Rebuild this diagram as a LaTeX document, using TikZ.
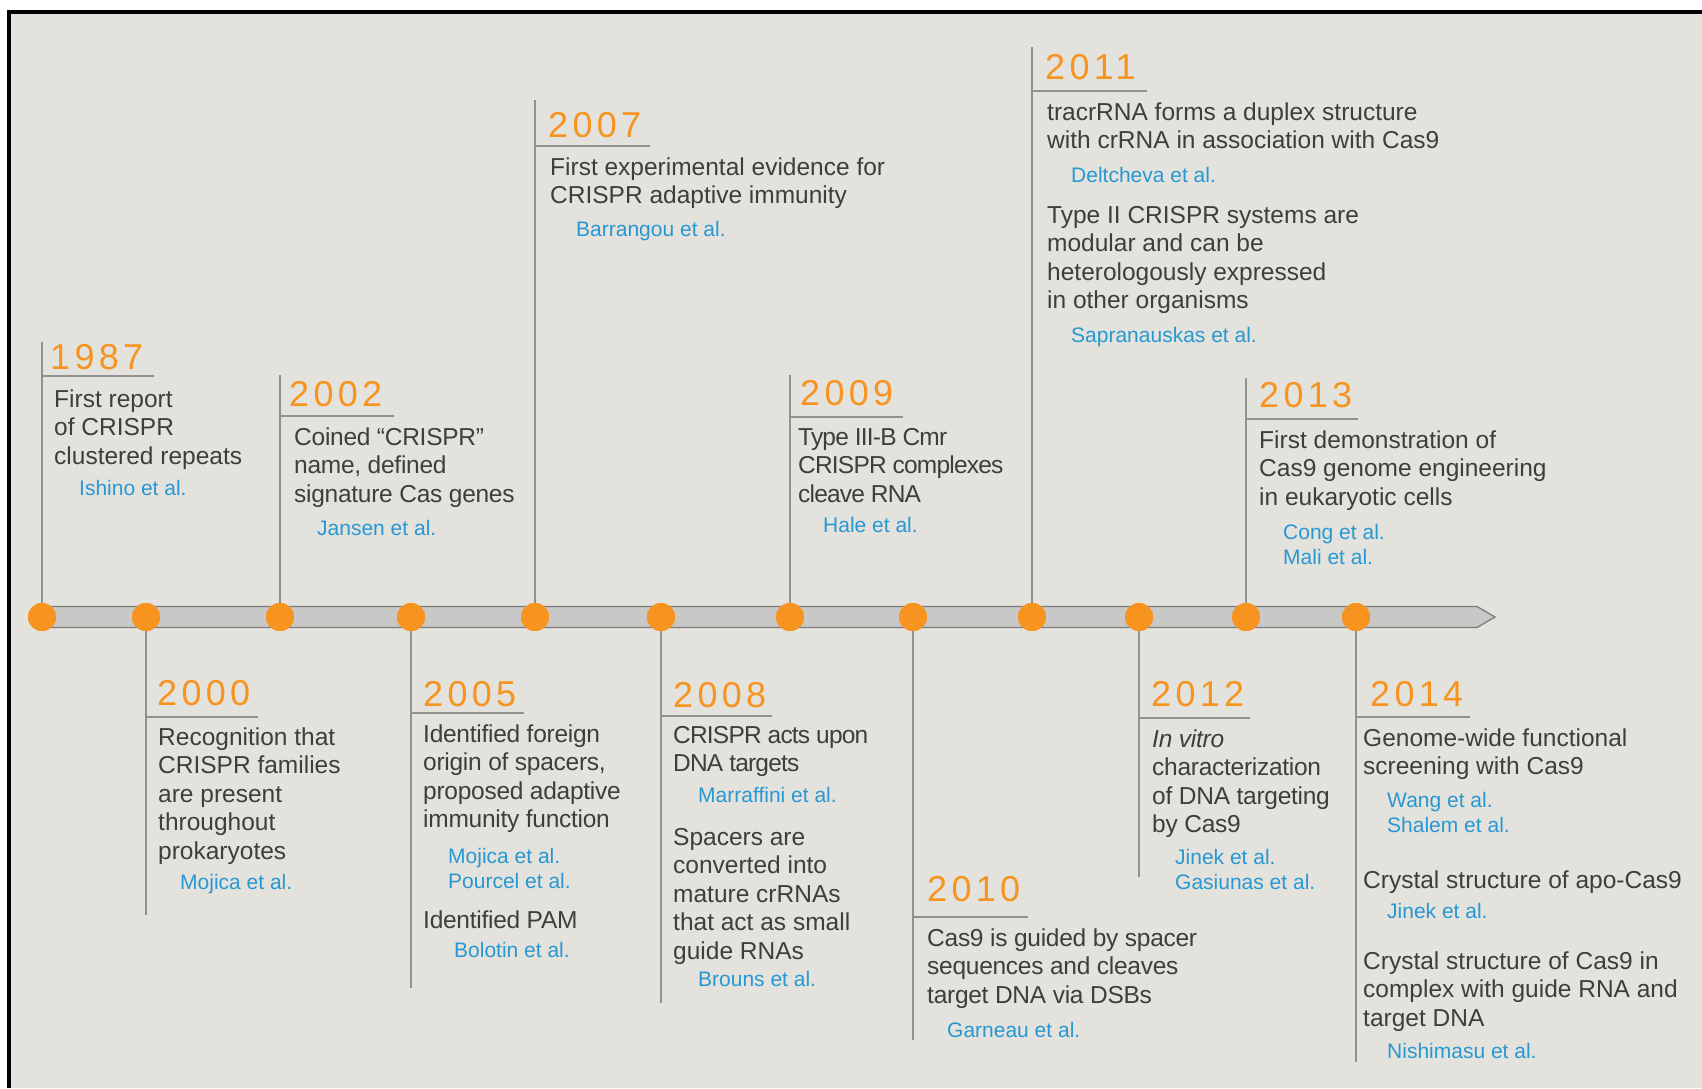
\documentclass[tikz,border=0pt]{standalone}
\usepackage{fontspec}
\setmainfont{Liberation Sans}
\newfontfamily\yearfam[LetterSpace=12]{Liberation Sans}
\newfontfamily\tightA[LetterSpace=-3.3]{Liberation Sans}
\newfontfamily\tightB[LetterSpace=-1.1]{Liberation Sans}
\definecolor{bg}{RGB}{227,226,221}
\definecolor{txt}{RGB}{62,62,62}
\definecolor{citeblue}{RGB}{40,152,210}
\definecolor{orng}{RGB}{247,148,32}
\definecolor{stemgray}{RGB}{145,145,143}
\definecolor{barfill}{RGB}{200,200,198}
\definecolor{barline}{RGB}{125,125,125}
\newcommand\ml[1]{\begin{tabular}[t]{@{}l@{}}#1\end{tabular}}
\tikzset{
  dot/.style={circle, fill=orng, draw=none, minimum size=28pt, inner sep=0pt},
  stem/.style={draw=stemgray, line width=1.6pt},
  year/.style={anchor=base west, inner sep=0pt, text=orng, font=\yearfam\fontsize{36}{36}\selectfont},
  body/.style={anchor=base west, inner sep=0pt, text=txt, font=\fontsize{24.5}{28.5}\selectfont},
  bodyA/.style={body, font=\tightA\fontsize{24.5}{28.5}\selectfont},
  bodyB/.style={body, font=\tightB\fontsize{24.5}{28.5}\selectfont},
  cite/.style={anchor=base west, inner sep=0pt, text=citeblue, font=\fontsize{21}{25.5}\selectfont},
  bar/.style={fill=barfill, draw=barline, line width=1.3pt, line join=miter}
}
\begin{document}
\begin{tikzpicture}[x=1pt,y=-1pt]
\useasboundingbox (0,0) rectangle (1702,1088);
\fill[white] (0,0) rectangle (1702,1088);
\fill[bg] (9,12) rectangle (1702,1088);
\draw[black, line width=3.5pt] (9,1088) -- (9,12) -- (1702,12);

% timeline bar
\draw[bar] (42,606.5) -- (1477,606.5) -- (1495,617) -- (1477,627.5) -- (42,627.5) -- cycle;

% coordinates for stems and underlines
\foreach \yr/\x/\s/\u/\e in {1987/42/342/376/154, 2000/146/915/717/258, 2002/280/375/416/394,
  2005/411/988/713/524, 2007/535/100/146/650, 2008/661/1003/716/772, 2009/790/375/417/903,
  2010/913/1040/917/1028, 2011/1032/47/91/1147, 2012/1139/877/718/1250, 2013/1246/378/419/1358,
  2014/1356/1062/717/1470}{
  \coordinate (s\yr) at (\x,\s);
  \coordinate (ua\yr) at (\x,\u);
  \coordinate (ub\yr) at (\e,\u);
  \node[dot] (d\yr) at (\x,617) {};
}
\foreach \yr in {1987,2000,2002,2005,2007,2008,2009,2010,2011,2012,2013,2014}{
  \draw[stem] (d\yr.center) -- (s\yr);
  \draw[stem] (ua\yr) -- (ub\yr);
}
% redraw dots on top of stems
\foreach \yr in {1987,2000,2002,2005,2007,2008,2009,2010,2011,2012,2013,2014}{
  \fill[orng] (d\yr.center) circle (14pt);
}

% 1987
\node[year] (y1987) at (50,369) {1987};
\node[body] (b1987) at (54,407) {\ml{First report\\of CRISPR\\clustered repeats}};
\node[cite] (c1987) at (79,495) {Ishino et al.};

% 2000
\node[year] (y2000) at (157,705) {2000};
\node[body] (b2000) at (158,745) {\ml{Recognition that\\CRISPR families\\are present\\throughout\\prokaryotes}};
\node[cite] (c2000) at (180,889) {Mojica et al.};

% 2002
\node[year] (y2002) at (289,406) {2002};
\node[bodyB] (b2002) at (294,445) {\ml{Coined “CRISPR”\\name, defined\\signature Cas genes}};
\node[cite] (c2002) at (317,535) {Jansen et al.};

% 2005
\node[year] (y2005) at (423,706) {2005};
\node[bodyB] (b2005) at (423,742) {\ml{Identified foreign\\origin of spacers,\\proposed adaptive\\immunity function}};
\node[cite] (c2005) at (448,863) {\ml{Mojica et al.\\Pourcel et al.}};
\node[bodyB] (p2005) at (423,928) {Identified PAM};
\node[cite] (e2005) at (454,957) {Bolotin et al.};

% 2007
\node[year] (y2007) at (548,137) {2007};
\node[body] (b2007) at (550,175) {\ml{First experimental evidence for\\CRISPR adaptive immunity}};
\node[cite] (c2007) at (576,236) {Barrangou et al.};

% 2008
\node[year] (y2008) at (673,707) {2008};
\node[bodyA] (b2008) at (673,743) {\ml{CRISPR acts upon\\DNA targets}};
\node[cite] (c2008) at (698,802) {Marraffini et al.};
\node[body] (p2008) at (673,845) {\ml{Spacers are\\converted into\\mature crRNAs\\that act as small\\guide RNAs}};
\node[cite] (e2008) at (698,986) {Brouns et al.};

% 2009
\node[year] (y2009) at (800,405) {2009};
\node[bodyA] (b2009) at (798,445) {\ml{Type III-B Cmr\\CRISPR complexes\\cleave RNA}};
\node[cite] (c2009) at (823,532) {Hale et al.};

% 2010
\node[year] (y2010) at (927,901) {2010};
\node[bodyB] (b2010) at (927,946) {\ml{Cas9 is guided by spacer\\sequences and cleaves\\target DNA via DSBs}};
\node[cite] (c2010) at (947,1037) {Garneau et al.};

% 2011
\node[year] (y2011) at (1045,79) {2011};
\node[body] (b2011) at (1047,120) {\ml{tracrRNA forms a duplex structure\\with crRNA in association with Cas9}};
\node[cite] (c2011) at (1071,182) {Deltcheva et al.};
\node[body] (p2011) at (1047,223) {\ml{Type II CRISPR systems are\\modular and can be\\heterologously expressed\\in other organisms}};
\node[cite] (e2011) at (1071,342) {Sapranauskas et al.};

% 2012
\node[year] (y2012) at (1151,706) {2012};
\node[bodyB] (b2012) at (1152,747) {\ml{\textit{In vitro}\\characterization\\of DNA targeting\\by Cas9}};
\node[cite] (c2012) at (1175,864) {\ml{Jinek et al.\\Gasiunas et al.}};

% 2013
\node[year] (y2013) at (1259,407) {2013};
\node[body] (b2013) at (1259,448) {\ml{First demonstration of\\Cas9 genome engineering\\in eukaryotic cells}};
\node[cite] (c2013) at (1283,539) {\ml{Cong et al.\\Mali et al.}};

% 2014
\node[year] (y2014) at (1370,706) {2014};
\node[body] (b2014) at (1363,746) {\ml{Genome-wide functional\\screening with Cas9}};
\node[cite] (c2014) at (1387,807) {\ml{Wang et al.\\Shalem et al.}};
\node[body] (p2014) at (1363,888) {Crystal structure of apo-Cas9};
\node[cite] (e2014) at (1387,918) {Jinek et al.};
\node[body] (q2014) at (1363,969) {\ml{Crystal structure of Cas9 in\\complex with guide RNA and\\target DNA}};
\node[cite] (f2014) at (1387,1058) {Nishimasu et al.};
\end{tikzpicture}
\end{document}
